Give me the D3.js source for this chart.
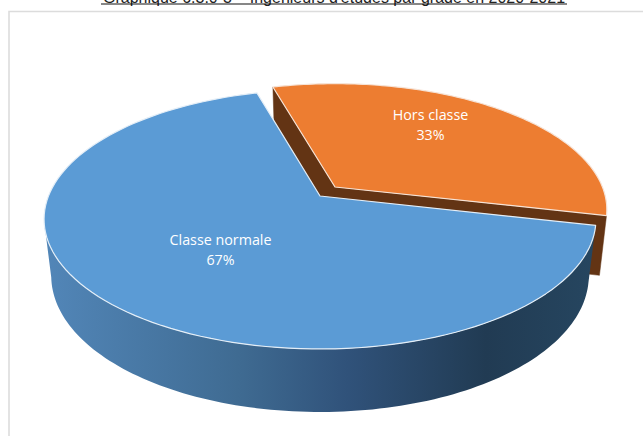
<!DOCTYPE html>
<html><head><meta charset="utf-8">
<script src="https://cdn.jsdelivr.net/npm/d3@7/dist/d3.min.js"></script>
<style>html,body{margin:0;padding:0;background:#fff}svg{display:block}</style>
</head><body><svg id="c" width="643" height="436"></svg>
<script>
const categories = ["Classe normale", "Hors classe"];
const shares = [67, 33];
const shareLabels = ["67%", "33%"];
const title = "Graphique 6.3.0-3 – Ingénieurs d'études par grade en 2020-2021";

const svg = d3.select("#c");
const defs = svg.append("defs");

// Page framing
svg.append("text").attr("x", 334).attr("y", 3).attr("text-anchor", "middle")
  .attr("font-family", "Liberation Sans").attr("font-size", 16).attr("fill", "#222").text(title);
svg.append("line").attr("x1", 101).attr("x2", 567).attr("y1", 4).attr("y2", 4).attr("stroke", "#111").attr("stroke-width", 1.2);
svg.append("path").attr("d", "M9,436V11.5H643").attr("fill", "none").attr("stroke", "#dcdcdc").attr("stroke-width", 1.6);

// Perspective disc: u right, v toward the viewer
const A = 271.5, B = 125.6, K = 0.179;
const project = (s, u, v, low) => {
  const w = 1 - K * v;
  const x = s.sx * A * u / w, y = s.sy * B * v / w;
  if (!low) return [s.x + x, s.y + y];
  return [s.x + x * 0.974, s.y + y + s.d + 8 * v];
};
const pt = (s, a, r, low) => project(s, r * Math.sin(a), -r * Math.cos(a), low);
const rimPts = (s, a0, a1, low) => d3.range(0, 121).map(i => pt(s, a0 + (a1 - a0) * i / 120, 1, low));
const line = d3.line();

const pie = d3.pie().sort(null).startAngle(103 * Math.PI / 180).endAngle((103 + 360) * Math.PI / 180);
const arcs = pie(shares);
const blue = arcs[0], orange = arcs[1];
const sBlue = {x: 320, y: 196, sx: 1, sy: 1, d: 55};
const sOrange = {x: 335, y: 187, sx: 0.985, sy: 0.97, d: 58};

const grad = defs.append("linearGradient").attr("id", "wall").attr("gradientUnits", "userSpaceOnUse")
  .attr("x1", 45).attr("x2", 596).attr("y1", 0).attr("y2", 0);
[[0, "#5286b8"], [0.35, "#3f6b92"], [0.55, "#30527a"], [0.8, "#213b53"], [1, "#264660"]]
  .forEach(s => grad.append("stop").attr("offset", s[0]).attr("stop-color", s[1]));

const quad = (s, a) => [project(s, 0, 0), pt(s, a, 1), pt(s, a, 1, true), project(s, 0, 0, true)];

// Orange slice cut faces
[orange.startAngle, orange.endAngle].forEach(a => {
  svg.append("path").attr("d", line(quad(sOrange, a)) + "Z").attr("fill", "#633414")
    .attr("stroke", "#633414").attr("stroke-width", 0.5);
});

// Blue rim wall (front part of the disc, up to the left silhouette)
const frontEnd = 259 * Math.PI / 180;
const wallTop = rimPts(sBlue, blue.startAngle, frontEnd);
const wallLow = rimPts(sBlue, blue.startAngle, frontEnd, true).reverse();
svg.append("path").attr("d", line(wallTop.concat(wallLow)) + "Z").attr("fill", "url(#wall)");

const slicePath = (s, d) => line([project(s, 0, 0)].concat(rimPts(s, d.startAngle, d.endAngle))) + "Z";

// Top faces
svg.append("path").attr("d", slicePath(sBlue, blue)).attr("fill", "#5B9BD5")
  .attr("stroke", "#e4eef7").attr("stroke-width", 1.2).attr("stroke-linejoin", "round");
svg.append("path").attr("d", slicePath(sOrange, orange)).attr("fill", "#ED7D31")
  .attr("stroke", "#f6e3d6").attr("stroke-width", 1.2).attr("stroke-linejoin", "round");

// Labels
const labelPos = [[220.5, 240.5], [430.5, 115.5]];
categories.forEach((c, i) => {
  const t = svg.append("text").attr("text-anchor", "middle").attr("fill", "#fff")
    .attr("font-family", "Open Sans").attr("font-size", 14.3);
  t.append("tspan").attr("x", labelPos[i][0]).attr("y", labelPos[i][1] + 4).text(c);
  t.append("tspan").attr("x", labelPos[i][0]).attr("y", labelPos[i][1] + 24).text(shareLabels[i]);
});
</script></body></html>
